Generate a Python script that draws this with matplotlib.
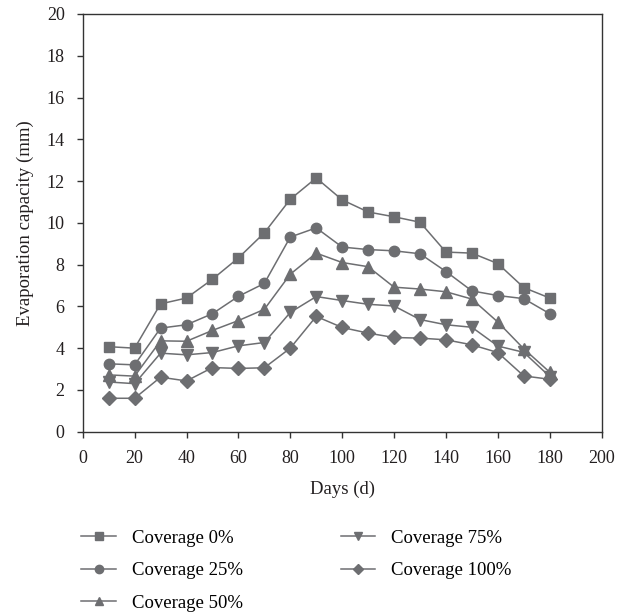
import matplotlib
matplotlib.use("Agg")
import matplotlib.pyplot as plt

plt.rcParams['font.family'] = ['Liberation Serif', 'DejaVu Serif']

days = [10, 20, 30, 40, 50, 60, 70, 80, 90, 100, 110, 120, 130, 140, 150, 160, 170, 180]

cov_0 = [4.07, 4.0, 6.12, 6.4, 7.3, 8.32, 9.52, 11.13, 12.15, 11.1, 10.52, 10.29, 10.03, 8.6, 8.55, 8.05, 6.9, 6.4]
cov_25 = [3.25, 3.2, 4.96, 5.12, 5.65, 6.48, 7.1, 9.32, 9.76, 8.84, 8.72, 8.66, 8.52, 7.67, 6.74, 6.52, 6.37, 5.65]
cov_50 = [2.72, 2.66, 4.35, 4.33, 4.85, 5.32, 5.86, 7.54, 8.55, 8.1, 7.9, 6.92, 6.83, 6.7, 6.35, 5.25, 3.97, 2.85]
cov_75 = [2.38, 2.3, 3.76, 3.68, 3.79, 4.11, 4.27, 5.71, 6.47, 6.28, 6.1, 6.02, 5.37, 5.12, 5.0, 4.1, 3.8, 2.64]
cov_100 = [1.6, 1.6, 2.61, 2.43, 3.07, 3.03, 3.06, 4.0, 5.52, 4.99, 4.72, 4.51, 4.48, 4.4, 4.16, 3.79, 2.67, 2.51]

labels = ["Coverage 0%", "Coverage 25%", "Coverage 50%", "Coverage 75%", "Coverage 100%"]
markers = ["s", "o", "^", "v", "D"]
sizes = [7, 7.5, 8, 8, 7]

gray = "#6d6e71"
txt = "#231f20"
fs = 13

fig = plt.figure(figsize=(6.32, 6.16), dpi=100)
ax = fig.add_axes([0.1309, 0.2992, 0.821, 0.6781])

for vals, lab, m, ms in zip([cov_0, cov_25, cov_50, cov_75, cov_100], labels, markers, sizes):
    ax.plot(days, vals, color=gray, lw=1.1, marker=m, ms=ms,
            markerfacecolor=gray, markeredgecolor=gray, label=lab)

ax.set_xlim(0, 200)
ax.set_ylim(0, 20)
ax.set_xticks(range(0, 201, 20))
ax.set_yticks(range(0, 21, 2))
ax.tick_params(direction='out', length=4.5, width=1, color='#333333', labelsize=fs,
               labelcolor=txt, pad=8.5)
for s in ax.spines.values():
    s.set_color('#333333')
    s.set_linewidth(1)

ax.set_xlabel("Days (d)", fontsize=13.5, color=txt, labelpad=10)
ax.set_ylabel("Evaporation capacity (mm)", fontsize=13.5, color=txt, labelpad=9)

fig.legend(loc='upper left', bbox_to_anchor=(0.117, 0.152), ncol=2, frameon=False,
           fontsize=13.5, handlelength=1.85, columnspacing=5.2, labelspacing=0.82,
           handletextpad=0.85, markerscale=0.8, borderaxespad=0)

fig.savefig("out.png", dpi=100)
